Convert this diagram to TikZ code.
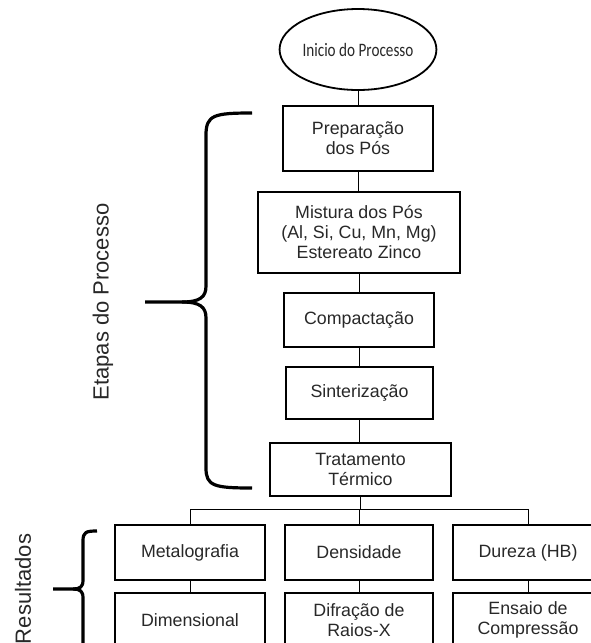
\documentclass[tikz,border=0pt]{standalone}
\usepackage{fontspec}
\setmainfont{Liberation Sans}
\newfontfamily\calibfont{Carlito}
\usetikzlibrary{shapes.geometric}
\definecolor{txt}{RGB}{40,40,40}
\begin{document}
\begin{tikzpicture}[x=1pt,y=-1pt,
  box/.style={draw=black, line width=2.4pt, align=center, font=\fontsize{17.8}{20}\selectfont, text=txt, inner sep=0pt},
  conn/.style={line width=1pt},
  bracestroke/.style={line width=3.2pt, line cap=butt, line join=round},
  sidelabel/.style={font=\fontsize{22}{26}\selectfont, text=txt, rotate=90}]
\useasboundingbox (0,0) rectangle (591,643);
\clip (0,0) rectangle (591,643);
% flow
\node[draw, ellipse, line width=1.8pt, minimum width=120, minimum height=81, inner sep=0pt,
      font=\calibfont\fontsize{19}{22}\selectfont, text=txt] (start) at (358,49.5) {\scalebox{0.8}[1]{Inicio do Processo}};
\node[box, minimum width=150, minimum height=65] (prep) at (358,138.5) {Preparação\\dos Pós};
\node[box, minimum width=202, minimum height=81] (mix) at (359,232.5) {Mistura dos Pós\\(Al, Si, Cu, Mn, Mg)\\Estereato Zinco};
\node[box, minimum width=150, minimum height=54] (comp) at (359,320) {Compactação};
\node[box, minimum width=147, minimum height=52] (sint) at (359.5,393) {Sinterização};
\node[box, minimum width=181, minimum height=53] (trat) at (360.5,469.5) {Tratamento\\Térmico};
% results
\node[box, minimum width=150, minimum height=55] (met) at (190,552.5) {Metalografia};
\node[box, minimum width=148, minimum height=55] (dens) at (359,552.5) {Densidade};
\node[box, minimum width=150, minimum height=55] (dur) at (528,552.5) {Dureza (HB)};
\node[box, minimum width=150, minimum height=54] (dim) at (190,620) {Dimensional};
\node[box, minimum width=148, minimum height=54] (dif) at (359,620) {Difração de\\Raios-X};
\node[box, minimum width=150, minimum height=54] (ens) at (528,620) {Ensaio de\\Compressão};
% connectors
\draw[conn] (start.south) -- (prep.north);
\draw[conn] (prep.south) -- (prep.south |- mix.north);
\draw[conn] (mix.south) -- (mix.south |- comp.north);
\draw[conn] (comp.south) -- (comp.south |- sint.north);
\draw[conn] (sint.south) -- (sint.south |- trat.north);
\coordinate (bus) at (359,509);
\draw[conn] (met.north) -- (met.north |- bus) -- (dur.north |- bus) -- (dur.north);
\draw[conn] (trat.south) -- (trat.south |- bus);
\draw[conn] (dens.north) -- (dens.north |- bus);
\draw[conn] (met.south) -- (dim.north);
\draw[conn] (dens.south) -- (dif.north);
\draw[conn] (dur.south) -- (ens.north);
% braces
\draw[bracestroke] (252,113) .. controls (214,113) and (206,115) .. (206,135) -- (206,286)
  .. controls (206,297) and (200,302) .. (182,302) -- (145,302);
\draw[bracestroke] (182,302) .. controls (200,302) and (206,307) .. (206,318) -- (206,468)
  .. controls (206,486) and (214,488) .. (252,488);
\node[sidelabel] (etapas) at (103,302) {Etapas do Processo};
\draw[bracestroke] (97,531) .. controls (86,531) and (83,532) .. (83,541) -- (83,580)
  .. controls (83,587) and (80,589) .. (73,589) -- (53,589);
\draw[bracestroke] (73,589) .. controls (80,589) and (83,591) .. (83,598) -- (83,660);
\node[sidelabel] (resultados) at (23,589) {Resultados};
\end{tikzpicture}
\end{document}
